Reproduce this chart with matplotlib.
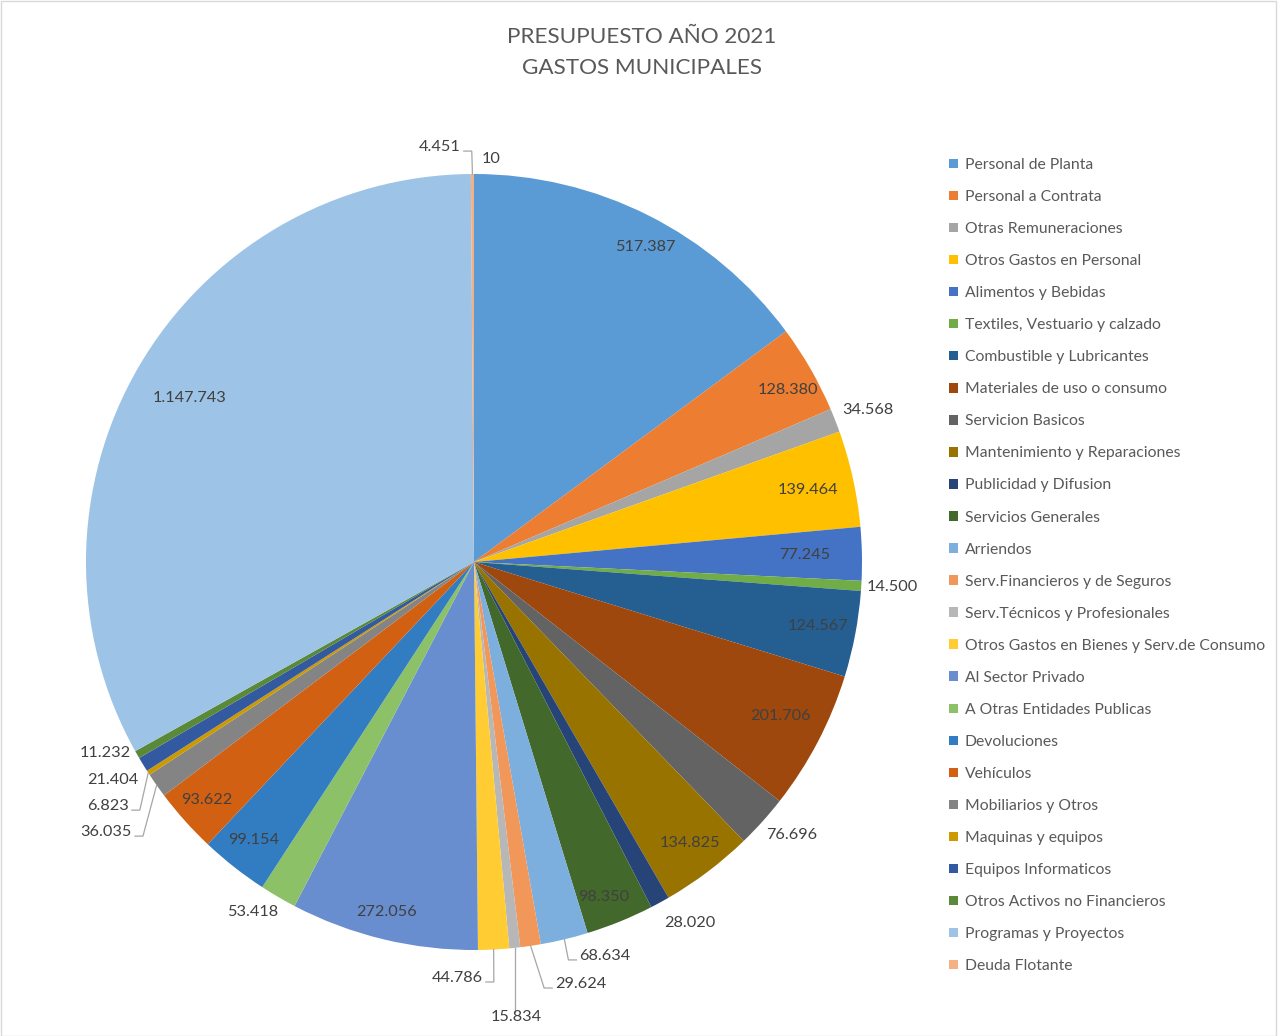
import matplotlib
matplotlib.use("Agg")
import matplotlib.pyplot as plt
import numpy as np
from matplotlib.patches import Rectangle

# ---------------- data ----------------
categories = [
    "Personal de Planta", "Personal a Contrata", "Otras Remuneraciones",
    "Otros Gastos en Personal", "Alimentos y Bebidas", "Textiles, Vestuario y calzado",
    "Combustible y Lubricantes", "Materiales de uso o consumo", "Servicion Basicos",
    "Mantenimiento y Reparaciones", "Publicidad y Difusion", "Servicios Generales",
    "Arriendos", "Serv.Financieros y de Seguros", "Serv.Técnicos y Profesionales",
    "Otros Gastos en Bienes y Serv.de Consumo", "Al Sector Privado",
    "A Otras Entidades Publicas", "Devoluciones", "Vehículos", "Mobiliarios y Otros",
    "Maquinas y equipos", "Equipos Informaticos", "Otros Activos no Financieros",
    "Programas y Proyectos", "Deuda Flotante",
]
values = [
    517387, 128380, 34568, 139464, 77245, 14500, 124567, 201706, 76696,
    134825, 28020, 98350, 68634, 29624, 15834, 44786, 272056, 53418,
    99154, 93622, 36035, 6823, 21404, 11232, 1147743, 4451,
]
# last tiny slice, its legend entry is cut off in the original chart
hidden_category = "Saldo Final de Caja"
hidden_value = 10

# ---------------- styles / layout ----------------
colors = [
    "#5B9BD5", "#ED7D31", "#A5A5A5", "#FFC000", "#4472C4", "#70AD47",
    "#255E91", "#9E480E", "#636363", "#997300", "#264478", "#43682B",
    "#7CAFDD", "#F1975A", "#B7B7B7", "#FFCD33", "#698ED0", "#8CC168",
    "#327DC2", "#D26012", "#848484", "#CC9A00", "#335AA1", "#5A8A39",
    "#9DC3E6", "#F4B183", "#C9C9C9",
]
# label placement: (radius factor, angle deg, leader line)
label_layout = [
    (0.924, 61.5, False), (0.923, 28.7, False), (1.088, 21.1, False),
    (0.881, 12.2, False), (0.853, 1.2, False), (1.079, -3.4, False),
    (0.902, -10.5, False), (0.883, -26.7, False), (1.080, -40.6, False),
    (0.913, -52.4, False), (1.084, -59.1, False), (0.925, -68.9, False),
    (1.070, -71.6, True), (1.122, -75.8, True), (1.178, -84.7, True),
    (1.073, -92.3, True), (0.930, -104.1, False), (1.067, -122.3, False),
    (0.914, -128.4, False), (0.922, -138.3, False), (1.176, -143.7, True),
    (1.134, -146.3, True), (1.087, -148.9, False), (1.069, -152.6, False),
    (0.845, 150.0, False), (1.073, 94.7, True), (1.040, 87.6, False),
]

FONT = ["Lato", "DejaVu Sans"]
plt.rcParams["font.family"] = FONT

W, H = 1282, 1036
CX, CY, R = 474, 562, 388  # pie centre / radius in pixels
PX = 1.0 / R

fig = plt.figure(figsize=(W / 100, H / 100), dpi=100)
ax = fig.add_axes([0, 0, 1, 1])

all_values = values + [hidden_value]
wedges, _ = ax.pie(all_values, colors=colors, startangle=90, counterclock=False,
                   radius=1.0, center=(0, 0), wedgeprops=dict(linewidth=0))
ax.set_aspect("auto")
ax.set_xlim(-CX / R, (W - CX) / R)
ax.set_ylim(-(H - CY) / R, CY / R)
ax.axis("off")

# value labels
def fmt(v):
    return f"{v:,}".replace(",", ".")

total = float(sum(all_values))
cum = np.cumsum([0] + all_values)
texts = []
for i, v in enumerate(all_values):
    r, ang, lead = label_layout[i]
    a = np.deg2rad(ang)
    t = ax.text(r * np.cos(a), r * np.sin(a), fmt(v), ha="center", va="center",
                fontsize=11.7, color="#404040", family=FONT)
    texts.append(t)

fig.canvas.draw()
renderer = fig.canvas.get_renderer()
inv = ax.transData.inverted()
for i, v in enumerate(all_values):
    r, ang, lead = label_layout[i]
    if not lead:
        continue
    mid = 90 - 360.0 * (cum[i] + v / 2.0) / total
    m = np.deg2rad(mid)
    ex, ey = np.cos(m), np.sin(m)
    bb = texts[i].get_window_extent(renderer).transformed(inv)
    yc = (bb.y0 + bb.y1) / 2 - 4 * PX
    if bb.x0 < ex < bb.x1:
        xs, ys = [ex, ex], [bb.y1 - 2 * PX, ey]
    elif ex > bb.x1:
        ax_ = bb.x1 + 3 * PX
        xs, ys = [ax_, ax_ + 8 * PX, ex], [yc, yc, ey]
    else:
        ax_ = bb.x0 - 3 * PX
        xs, ys = [ax_, ax_ - 8 * PX, ex], [yc, yc, ey]
    ax.plot(xs, ys, color="#A6A6A6", lw=0.9, solid_joinstyle="miter")

# legend (hidden last slice not listed)
leg = fig.legend(wedges[:len(categories)], categories, loc="upper left",
                 bbox_to_anchor=(949 / W, 1 - 158 / H), frameon=False,
                 fontsize=11.3, labelspacing=1.15, handlelength=0.55,
                 handleheight=0.55, handletextpad=0.45, borderaxespad=0,
                 borderpad=0)
for t in leg.get_texts():
    t.set_color("#595959")

# title
fig.text(642 / W, 1 - 37 / H, "PRESUPUESTO AÑO 2021", ha="center", va="center",
         fontsize=16.2, color="#595959")
fig.text(642 / W, 1 - 68 / H, "GASTOS MUNICIPALES", ha="center", va="center",
         fontsize=16.2, color="#595959")

# chart area border
fig.patches.append(Rectangle((0.5 / W, 0.5 / H), 1275 / W, (H - 1) / H,
                             transform=fig.transFigure, fill=False,
                             edgecolor="#D9D9D9", lw=1))

fig.savefig("out.png", dpi=100)
